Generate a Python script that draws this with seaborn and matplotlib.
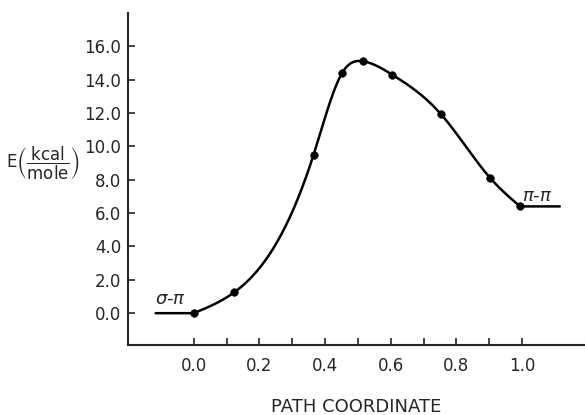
import numpy as np
import pandas as pd
import seaborn as sns
from matplotlib import pyplot as plt

# points
path = [0.0, 0.124, 0.365, 0.452, 0.515, 0.604, 0.752, 0.903, 0.994]
energy = [0.0, 1.26, 9.5, 14.4, 15.1, 14.3, 11.95, 8.1, 6.4]
# flat ends of the curve
left_end = [-0.116, 0.0]
right_end = [0.994, 1.115]
yticks = [0.0, 2.0, 4.0, 6.0, 8.0, 10.0, 12.0, 14.0, 16.0]
xticks = [0.0, 0.2, 0.4, 0.6, 0.8, 1.0]


def natural_spline(x, y, n=400):
    # plain natural cubic spline so the line runs smooth through the dots
    x = np.asarray(x, float)
    y = np.asarray(y, float)
    k = len(x)
    h = np.diff(x)
    A = np.zeros((k, k))
    b = np.zeros(k)
    A[0, 0] = A[-1, -1] = 1
    for i in range(1, k - 1):
        A[i, i - 1] = h[i - 1]
        A[i, i] = 2 * (h[i - 1] + h[i])
        A[i, i + 1] = h[i]
        b[i] = 6 * ((y[i + 1] - y[i]) / h[i] - (y[i] - y[i - 1]) / h[i - 1])
    M = np.linalg.solve(A, b)
    xs = np.linspace(x[0], x[-1], n)
    idx = np.clip(np.searchsorted(x, xs) - 1, 0, k - 2)
    x0, x1 = x[idx], x[idx + 1]
    hh = x1 - x0
    ys = (M[idx] * (x1 - xs) ** 3 / (6 * hh) + M[idx + 1] * (xs - x0) ** 3 / (6 * hh)
          + (y[idx] / hh - M[idx] * hh / 6) * (x1 - xs)
          + (y[idx + 1] / hh - M[idx + 1] * hh / 6) * (xs - x0))
    return xs, ys


sx, sy = natural_spline(path, energy)
curve = pd.DataFrame({'x': np.concatenate([left_end, sx, right_end]),
                      'E': np.concatenate([[0.0, 0.0], sy, [energy[-1], energy[-1]]])})
dots = pd.DataFrame({'x': path, 'E': energy})

sns.set_style("ticks")
plt.rcParams['font.family'] = ['DejaVu Sans']
plt.rcParams['mathtext.fontset'] = 'dejavusans'

fig = plt.figure(figsize=(5.85, 4.15), dpi=100)
ax = fig.add_axes([0.219, 0.169, 0.78, 0.80])

sns.lineplot(data=curve, x='x', y='E', color='black', lw=1.8, sort=False, ax=ax)
sns.scatterplot(data=dots, x='x', y='E', color='black', s=30, edgecolor='black', zorder=3, ax=ax)

ax.set_xlim(-0.2, 1.19)
ax.set_ylim(-1.9, 18.0)
ax.set_xticks(xticks)
ax.set_xticklabels([f'{v:.1f}' for v in xticks], fontsize=12)
ax.set_xticks(np.arange(0.1, 1.0, 0.2), minor=True)
ax.set_yticks(yticks)
ax.set_yticklabels([f'{v:.1f}' for v in yticks], fontsize=12)
ax.tick_params(direction='in', length=5, width=1.2, pad=5)
ax.tick_params(axis='x', which='minor', direction='in', length=5, width=1.2)
ax.tick_params(axis='x', pad=9)
sns.despine(ax=ax)
for s in ['left', 'bottom']:
    ax.spines[s].set_linewidth(1.5)

ax.set_xlabel('PATH COORDINATE', fontsize=13, labelpad=16)
ax.set_ylabel('')
fig.text(6 / 585, 1 - 163 / 415, r'E$\left(\dfrac{\mathrm{kcal}}{\mathrm{mole}}\right)$', fontsize=12,
         ha='left', va='center')

ax.text(-0.118, 0.55, r'$\sigma$-$\pi$', fontsize=13, fontstyle='italic')
ax.text(1.0, 6.75, r'$\pi$-$\pi$', fontsize=13, fontstyle='italic')

fig.savefig('out.png', dpi=100)
